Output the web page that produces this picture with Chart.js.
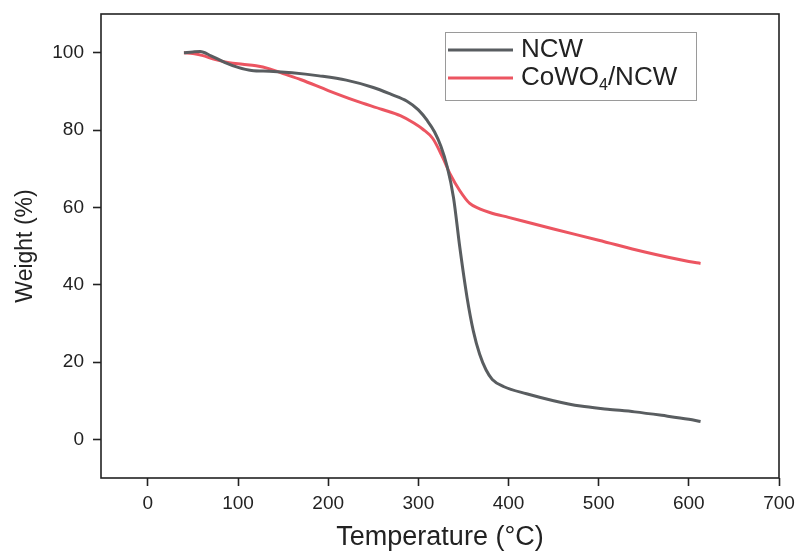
<!DOCTYPE html>
<html>
<head>
<meta charset="utf-8">
<script src="https://cdn.jsdelivr.net/npm/chart.js@4/dist/chart.umd.min.js"></script>
<style>
  html, body { margin: 0; padding: 0; background: #fff; }
  #wrap { width: 802px; height: 554px; }
</style>
</head>
<body>
<div id="wrap"><canvas id="tga" width="802" height="554"></canvas></div>
<script>
// TGA curves: temperature (°C) vs remaining weight (%)
const tempNCW = [40, 50, 58, 70, 85, 100, 115, 135, 160, 190, 220, 250, 270, 287, 300, 310, 318, 325, 332, 339, 346, 354, 361, 368, 375, 382, 395, 420, 450, 480, 510, 540, 570, 600, 613];
const weightNCW = [100, 100.2, 100.3, 99.2, 97.5, 96.2, 95.4, 95.2, 94.8, 94.0, 92.9, 91.0, 89.2, 87.5, 85.2, 82.4, 79.5, 75.8, 70.5, 62.5, 49.6, 36.7, 28.0, 22.0, 18.0, 15.5, 13.6, 11.8, 10.0, 8.6, 7.8, 7.1, 6.2, 5.2, 4.6];

const tempCo = [40, 50, 60, 75, 90, 105, 120, 135, 150, 170, 200, 230, 260, 280, 295, 305, 316, 327, 335, 346, 357, 368, 380, 400, 450, 500, 550, 600, 613];
const weightCo = [100, 99.8, 99.3, 98.2, 97.4, 97.0, 96.6, 95.8, 94.6, 93.0, 90.2, 87.6, 85.3, 83.7, 81.8, 80.2, 77.8, 72.9, 68.7, 64.3, 61.0, 59.6, 58.6, 57.4, 54.4, 51.5, 48.5, 46.0, 45.5];

const xTicks = [0, 100, 200, 300, 400, 500, 600, 700];
const yTicks = [0, 20, 40, 60, 80, 100];

const FONT = '"Liberation Sans", Arial, sans-serif';
const INK = '#222';

const toPoints = (xs, ys) => xs.map((x, i) => ({ x: x, y: ys[i] }));

// box around the plot area
const frame = {
  id: 'frame',
  afterDatasetsDraw(chart) {
    const a = chart.chartArea;
    const ctx = chart.ctx;
    ctx.save();
    ctx.strokeStyle = INK;
    ctx.lineWidth = 1.6;
    ctx.strokeRect(a.left, a.top, a.right - a.left, a.bottom - a.top);
    ctx.restore();
  }
};

// legend box with subscript support (₀-₉ drawn as small lowered digits)
const boxLegend = {
  id: 'boxLegend',
  afterDraw(chart) {
    const ctx = chart.ctx;
    const x0 = 445, y0 = 32, w = 251, h = 68;
    ctx.save();
    ctx.fillStyle = '#fff';
    ctx.fillRect(x0, y0, w, h);
    ctx.strokeStyle = '#9a9a9a';
    ctx.lineWidth = 1;
    ctx.strokeRect(x0 + 0.5, y0 + 0.5, w, h);
    chart.data.datasets.forEach((ds, i) => {
      const cy = y0 + 18 + i * 28;
      ctx.strokeStyle = ds.borderColor;
      ctx.lineWidth = 3;
      ctx.beginPath();
      ctx.moveTo(x0 + 3, cy);
      ctx.lineTo(x0 + 68, cy);
      ctx.stroke();
      let tx = x0 + 76;
      ctx.fillStyle = INK;
      ctx.textBaseline = 'middle';
      for (const ch of ds.label) {
        const code = ch.charCodeAt(0);
        if (code >= 0x2080 && code <= 0x2089) {
          ctx.font = '16px ' + FONT;
          const d = String(code - 0x2080);
          ctx.fillText(d, tx, cy + 8);
          tx += ctx.measureText(d).width;
        } else {
          ctx.font = '26px ' + FONT;
          ctx.fillText(ch, tx, cy);
          tx += ctx.measureText(ch).width;
        }
      }
    });
    ctx.restore();
  }
};

new Chart(document.getElementById('tga'), {
  type: 'line',
  data: {
    datasets: [
      {
        label: 'NCW',
        data: toPoints(tempNCW, weightNCW),
        borderColor: '#595d60',
        borderWidth: 3,
        pointRadius: 0,
        cubicInterpolationMode: 'monotone',
        fill: false
      },
      {
        label: 'CoWO₄/NCW',
        data: toPoints(tempCo, weightCo),
        borderColor: '#ec5561',
        borderWidth: 3,
        pointRadius: 0,
        cubicInterpolationMode: 'monotone',
        fill: false
      }
    ]
  },
  options: {
    responsive: false,
    animation: false,
    layout: { padding: { top: 14, right: 23, left: 8, bottom: 0 } },
    plugins: {
      legend: { display: false },
      tooltip: { enabled: false }
    },
    scales: {
      x: {
        type: 'linear',
        min: -52,
        max: 700,
        afterBuildTicks: s => { s.ticks = xTicks.map(v => ({ value: v })); },
        afterFit: s => { s.height = 76; s.paddingLeft = 0; s.paddingRight = 0; },
        border: { display: false },
        grid: { drawOnChartArea: false, drawTicks: true, tickLength: 8, tickColor: INK, tickWidth: 1.6 },
        ticks: { color: INK, font: { family: FONT, size: 19 }, padding: 6, maxRotation: 0 },
        title: { display: true, text: 'Temperature (°C)', color: INK, font: { family: FONT, size: 27 }, padding: { top: 0, bottom: 0 } }
      },
      y: {
        type: 'linear',
        min: -10,
        max: 110,
        afterBuildTicks: s => { s.ticks = yTicks.map(v => ({ value: v })); },
        afterFit: s => { s.width = 93; s.paddingTop = 0; s.paddingBottom = 0; },
        border: { display: false },
        grid: { drawOnChartArea: false, drawTicks: true, tickLength: 8, tickColor: INK, tickWidth: 1.6 },
        ticks: { color: INK, font: { family: FONT, size: 19 }, padding: 9 },
        title: { display: true, text: 'Weight (%)', color: INK, font: { family: FONT, size: 23 }, padding: { bottom: 4 } }
      }
    }
  },
  plugins: [frame, boxLegend]
});
</script>
</body>
</html>
